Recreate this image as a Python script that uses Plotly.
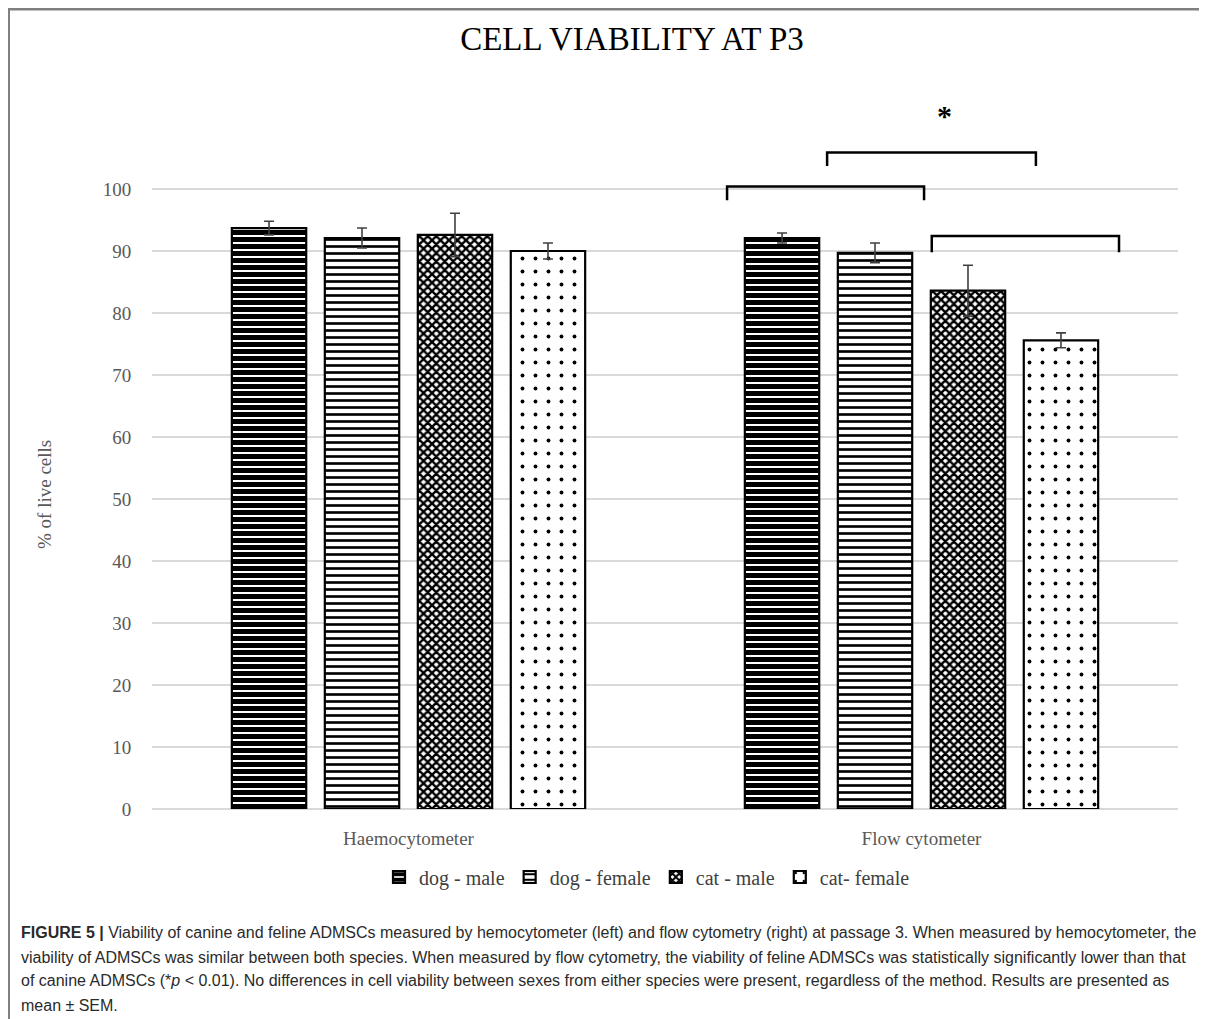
import plotly.graph_objects as go

# ---------------- data ----------------
groups = ["Haemocytometer", "Flow cytometer"]
series_names = ["dog - male", "dog - female", "cat - male", "cat- female"]
dog_male = [93.7, 92.1]
dog_male_err = [1.1, 0.8]
dog_female = [92.1, 89.7]
dog_female_err = [1.6, 1.6]
cat_male = [92.6, 83.6]
cat_male_err = [3.5, 4.1]
cat_female = [90.0, 75.6]
cat_female_err = [1.3, 1.2]
y_ticks = [0, 10, 20, 30, 40, 50, 60, 70, 80, 90, 100]
# significance brackets: (x start, x end, bar height, leg end) in data units
brackets = [(0.621, 1.005, 100.4, 98.2),
            (0.816, 1.223, 105.9, 103.7),
            (1.020, 1.385, 92.4, 89.8)]
star_x, star_y = 1.044, 111.9
caption_lines = [
    "<b>FIGURE 5 |</b> Viability of canine and feline ADMSCs measured by hemocytometer (left) and flow cytometry (right) at passage 3. When measured by hemocytometer, the",
    "viability of ADMSCs was similar between both species. When measured by flow cytometry, the viability of feline ADMSCs was statistically significantly lower than that",
    "of canine ADMSCs (*<i>p</i> &lt; 0.01). No differences in cell viability between sexes from either species were present, regardless of the method. Results are presented as",
    "mean ± SEM.",
]

values = [dog_male, dog_female, cat_male, cat_female]
errors = [dog_male_err, dog_female_err, cat_male_err, cat_female_err]
patterns = [
    dict(shape="-", size=7, solidity=0.72, fgcolor="#000000", fgopacity=1, bgcolor="white"),
    dict(shape="-", size=7, solidity=0.38, fgcolor="#000000", fgopacity=1, bgcolor="white"),
    dict(shape="x", size=6, solidity=0.65, fgcolor="#000000", fgopacity=1, bgcolor="white"),
    dict(shape=".", size=13, solidity=0.07, fgcolor="#000000", fgopacity=1, bgcolor="white"),
]

# page has an 8px body margin; work in page pixels and convert
OFF = 8
W, H = 1199, 1011
L, R, T, B = 144, 29, 88, 210
PW, PH = W - L - R, H - T - B


def px(x):
    return (x - OFF - L) / PW


def py(y):
    return (H - B - (y - OFF)) / PH


serif = "Liberation Serif, Times New Roman, serif"
sans = "Liberation Sans, Arial, sans-serif"

fig = go.Figure()
xpos = list(range(len(groups)))
for name, v, e, pat in zip(series_names, values, errors, patterns):
    fig.add_trace(go.Bar(
        x=xpos, y=v, name=name,
        marker=dict(color="white", pattern=pat, line=dict(color="black", width=2.2)),
        error_y=dict(type="data", array=e, color="#404040", thickness=1.6, width=5),
    ))

shapes = []
for x0, x1, yt, yl in brackets:
    shapes.append(dict(type="path", xref="x", yref="y",
                       path=f"M {x0},{yl} L {x0},{yt} L {x1},{yt} L {x1},{yl}",
                       line=dict(color="black", width=2.5)))
# outer frame (top and left border)
shapes.append(dict(type="line", xref="paper", yref="paper", x0=px(8.5), x1=px(1207),
                   y0=py(9), y1=py(9), line=dict(color="#808080", width=3)))
shapes.append(dict(type="line", xref="paper", yref="paper", x0=px(9), x1=px(9),
                   y0=py(8), y1=py(1019), line=dict(color="#808080", width=2)))

annotations = [
    dict(x=star_x, y=star_y, xref="x", yref="y", text="<b>*</b>", showarrow=False,
         font=dict(family=serif, size=30, color="black")),
    dict(x=px(45), y=py(495), xref="paper", yref="paper", text="% of live cells",
         textangle=-90, showarrow=False, xanchor="center", yanchor="middle",
         font=dict(family=serif, size=19, color="#595959")),
]
for i, line in enumerate(caption_lines):
    annotations.append(dict(x=px(19), y=py(933 + 24 * i), xref="paper", yref="paper",
                            xanchor="left", yanchor="middle", align="left", text=line,
                            showarrow=False, font=dict(family=sans, size=16, color="#2a2a2a")))

fig.update_layout(
    width=W, height=H,
    margin=dict(l=L, r=R, t=T, b=B),
    paper_bgcolor="white", plot_bgcolor="white",
    barmode="group", bargap=0.275, bargroupgap=0.2,
    title=dict(text="CELL VIABILITY AT P3", x=(632 - OFF) / W, xanchor="center",
               xref="container", y=1 - (38 - OFF) / H, yref="container", yanchor="middle",
               font=dict(family=serif, size=33, color="black")),
    xaxis=dict(range=[-0.5, 1.5], tickvals=xpos, ticktext=groups, showgrid=False,
               zeroline=False, showline=False, ticks="outside", ticklen=12,
               tickcolor="rgba(0,0,0,0)",
               tickfont=dict(family=serif, size=19, color="#595959")),
    yaxis=dict(range=[0, 115], tickvals=y_ticks, showgrid=True, gridcolor="#d9d9d9",
               gridwidth=1.5, zeroline=True, zerolinecolor="#d9d9d9", zerolinewidth=1.5,
               showline=False, ticks="outside", ticklen=16, tickcolor="rgba(0,0,0,0)",
               tickfont=dict(family=serif, size=19, color="#595959")),
    legend=dict(orientation="h", x=px(647), xanchor="center", y=py(877), yanchor="middle",
                font=dict(family=serif, size=20, color="#404040"), traceorder="normal"),
    shapes=shapes,
    annotations=annotations,
)

fig.write_html("out.html")
